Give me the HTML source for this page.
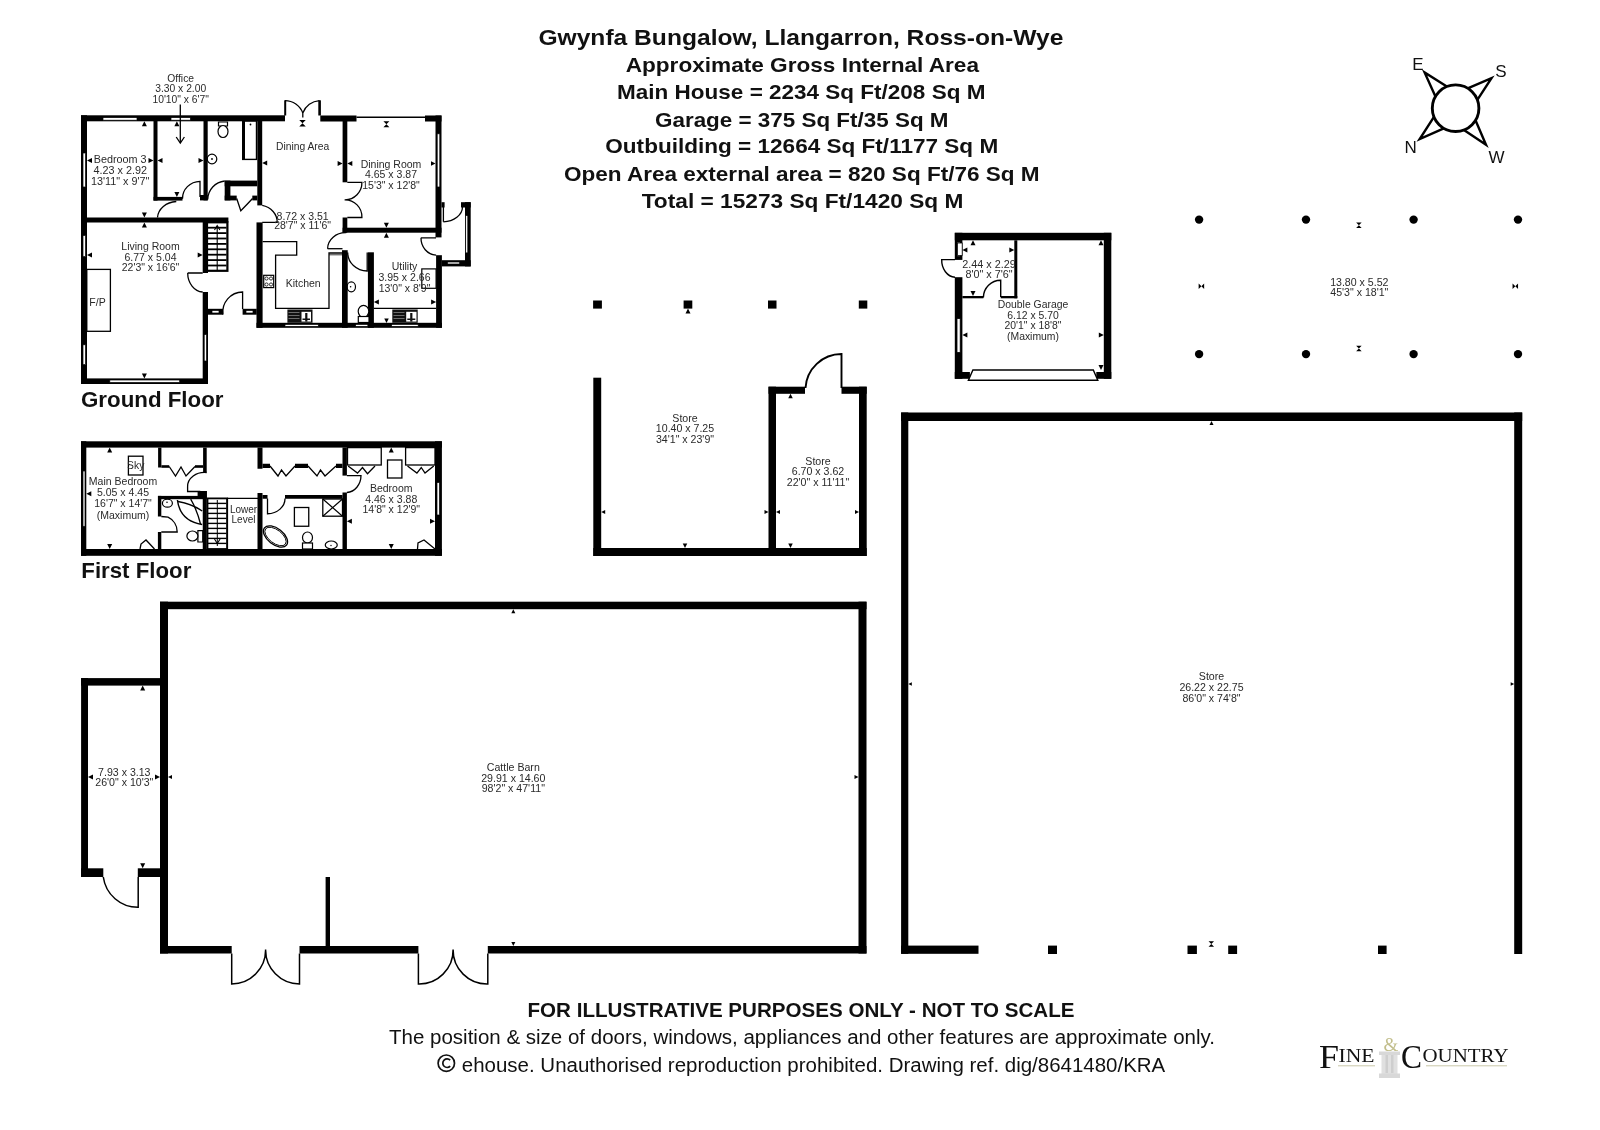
<!DOCTYPE html>
<html><head><meta charset="utf-8"><style>
html,body{margin:0;padding:0;background:#fff;width:1600px;height:1130px;overflow:hidden}
svg{display:block;will-change:transform}
</style></head><body>
<svg width="1600" height="1130" viewBox="0 0 1600 1130">
<rect width="1600" height="1130" fill="#fff"/>
<text x="538.40" y="44.75" font-family="Liberation Sans" font-size="22.8" font-weight="bold" text-anchor="start" fill="#111" textLength="525.0" lengthAdjust="spacingAndGlyphs">Gwynfa Bungalow, Llangarron, Ross-on-Wye</text>
<text x="625.70" y="71.60" font-family="Liberation Sans" font-size="21" font-weight="bold" text-anchor="start" fill="#111" textLength="353.3" lengthAdjust="spacingAndGlyphs">Approximate Gross Internal Area</text>
<text x="617.10" y="98.75" font-family="Liberation Sans" font-size="21" font-weight="bold" text-anchor="start" fill="#111" textLength="368.3" lengthAdjust="spacingAndGlyphs">Main House = 2234 Sq Ft/208 Sq M</text>
<text x="655.00" y="126.50" font-family="Liberation Sans" font-size="21" font-weight="bold" text-anchor="start" fill="#111" textLength="293.5" lengthAdjust="spacingAndGlyphs">Garage = 375 Sq Ft/35 Sq M</text>
<text x="605.30" y="153.00" font-family="Liberation Sans" font-size="21" font-weight="bold" text-anchor="start" fill="#111" textLength="392.9" lengthAdjust="spacingAndGlyphs">Outbuilding = 12664 Sq Ft/1177 Sq M</text>
<text x="563.90" y="180.50" font-family="Liberation Sans" font-size="21" font-weight="bold" text-anchor="start" fill="#111" textLength="475.7" lengthAdjust="spacingAndGlyphs">Open Area external area = 820 Sq Ft/76 Sq M</text>
<text x="641.70" y="207.65" font-family="Liberation Sans" font-size="21" font-weight="bold" text-anchor="start" fill="#111" textLength="321.7" lengthAdjust="spacingAndGlyphs">Total = 15273 Sq Ft/1420 Sq M</text>
<circle cx="1455.6" cy="108.2" r="23.3" fill="none" stroke="#000" stroke-width="2.9"/>
<path d="M1435.45,96.51 L1424.60,72.50 L1446.85,86.61" stroke="#000" stroke-width="2.4" fill="none"/>
<path d="M1467.67,88.27 L1491.50,78.20 L1477.36,99.86" stroke="#000" stroke-width="2.4" fill="none"/>
<path d="M1443.82,128.30 L1419.70,139.10 L1433.97,116.86" stroke="#000" stroke-width="2.4" fill="none"/>
<path d="M1475.51,120.31 L1486.00,144.70 L1463.91,129.97" stroke="#000" stroke-width="2.4" fill="none"/>
<text x="1418.00" y="69.70" font-family="Liberation Sans" font-size="17" text-anchor="middle" fill="#111">E</text>
<text x="1500.80" y="77.20" font-family="Liberation Sans" font-size="17" text-anchor="middle" fill="#111">S</text>
<text x="1410.60" y="152.80" font-family="Liberation Sans" font-size="17" text-anchor="middle" fill="#111">N</text>
<text x="1496.40" y="163.30" font-family="Liberation Sans" font-size="17" text-anchor="middle" fill="#111">W</text>
<text x="527.50" y="1016.80" font-family="Liberation Sans" font-size="20.5" font-weight="bold" text-anchor="start" fill="#111" textLength="547.0" lengthAdjust="spacingAndGlyphs">FOR ILLUSTRATIVE PURPOSES ONLY - NOT TO SCALE</text>
<text x="389.00" y="1043.80" font-family="Liberation Sans" font-size="19.5" text-anchor="start" fill="#111" textLength="826.0" lengthAdjust="spacingAndGlyphs">The position &amp; size of doors, windows, appliances and other features are approximate only.</text>
<circle cx="446.3" cy="1063.2" r="8.2" fill="none" stroke="#111" stroke-width="1.7"/>
<path d="M450.2,1060.2 A4.3,4.3 0 1 0 450.2,1066.2" fill="none" stroke="#111" stroke-width="1.7"/>
<text x="461.80" y="1071.80" font-family="Liberation Sans" font-size="19.5" text-anchor="start" fill="#111" textLength="703.5" lengthAdjust="spacingAndGlyphs">ehouse. Unauthorised reproduction prohibited. Drawing ref. dig/8641480/KRA</text>
<rect x="1381.5" y="1054" width="16" height="20" fill="#e0e0e0"/>
<rect x="1379" y="1051.5" width="21" height="3.5" fill="#d8d8d8"/>
<rect x="1379" y="1073.5" width="21" height="4.5" fill="#d8d8d8"/>
<rect x="1385.5" y="1055" width="2.5" height="18" fill="#cecece"/>
<rect x="1391" y="1055" width="2.5" height="18" fill="#cecece"/>
<text x="1390.80" y="1050.50" font-family="Liberation Serif" font-size="19" text-anchor="middle" fill="#c2be8c">&amp;</text>
<text x="1319.00" y="1068.20" font-family="Liberation Serif" font-size="33" text-anchor="start" fill="#111" textLength="20.0" lengthAdjust="spacingAndGlyphs">F</text>
<text x="1338.50" y="1062.40" font-family="Liberation Serif" font-size="19" text-anchor="start" fill="#111" textLength="36.0" lengthAdjust="spacingAndGlyphs">INE</text>
<text x="1401.00" y="1068.20" font-family="Liberation Serif" font-size="33" text-anchor="start" fill="#111" textLength="21.0" lengthAdjust="spacingAndGlyphs">C</text>
<text x="1422.50" y="1062.40" font-family="Liberation Serif" font-size="19" text-anchor="start" fill="#111" textLength="86.0" lengthAdjust="spacingAndGlyphs">OUNTRY</text>
<rect x="1338" y="1065.3" width="37" height="1" fill="#c9c8a8"/>
<rect x="1426" y="1065.3" width="81" height="1" fill="#c9c8a8"/>
<rect x="81.00" y="115.30" width="204.00" height="6.00" fill="#000"/>
<rect x="320.30" y="115.50" width="36.20" height="6.00" fill="#000"/>
<rect x="425.00" y="115.50" width="16.50" height="6.00" fill="#000"/>
<line x1="356.50" y1="117.20" x2="425.00" y2="117.20" stroke="#000" stroke-width="1.4"/>
<rect x="103.00" y="117.60" width="34.00" height="2.60" fill="#fff" stroke="#000" stroke-width="0.7"/>
<rect x="171.00" y="117.60" width="19.40" height="2.60" fill="#fff" stroke="#000" stroke-width="0.7"/>
<rect x="81.00" y="115.30" width="6.00" height="268.70" fill="#000"/>
<rect x="83.00" y="153.00" width="2.60" height="34.00" fill="#fff" stroke="#000" stroke-width="0.7"/>
<rect x="83.00" y="235.40" width="2.60" height="21.20" fill="#fff" stroke="#000" stroke-width="0.7"/>
<rect x="83.00" y="344.80" width="2.60" height="19.80" fill="#fff" stroke="#000" stroke-width="0.7"/>
<rect x="81.00" y="217.50" width="147.40" height="5.00" fill="#000"/>
<rect x="202.70" y="222.00" width="5.30" height="51.00" fill="#000"/>
<rect x="202.70" y="292.00" width="5.30" height="92.00" fill="#000"/>
<rect x="204.20" y="334.50" width="2.40" height="26.50" fill="#fff" stroke="#000" stroke-width="0.7"/>
<rect x="81.00" y="378.40" width="127.00" height="5.60" fill="#000"/>
<rect x="109.80" y="380.00" width="69.90" height="2.50" fill="#fff" stroke="#000" stroke-width="0.7"/>
<rect x="86.80" y="269.40" width="23.60" height="61.90" fill="none" stroke="#000" stroke-width="1.3"/>
<text x="97.50" y="306.00" font-family="Liberation Sans" font-size="10.5" text-anchor="middle" fill="#2a2a2a">F/P</text>
<rect x="153.50" y="121.00" width="4.00" height="79.60" fill="#000"/>
<rect x="153.50" y="196.90" width="29.00" height="3.70" fill="#000"/>
<rect x="203.50" y="121.00" width="4.20" height="79.40" fill="#000"/>
<rect x="200.00" y="195.00" width="7.70" height="5.40" fill="#000"/>
<path d="M200,197 L200,181.3 A18,17 0 0 0 182.5,198.8" stroke="#000" stroke-width="1.3" fill="none"/>
<path d="M157.5,217.5 A20,17 0 0 1 176.3,201.5" stroke="#000" stroke-width="1.3" fill="none"/>
<line x1="180.30" y1="104.60" x2="180.30" y2="142.50" stroke="#000" stroke-width="1.3"/>
<path d="M176.2,137 L180.3,143 L184.4,137" stroke="#000" stroke-width="1.3" fill="none"/>
<path d="M218.5,122 L227.5,122 L227.5,126 L218.5,126 Z" stroke="#000" stroke-width="1.2" fill="#fff"/>
<ellipse cx="223" cy="131.5" rx="5" ry="6" fill="#fff" stroke="#000" stroke-width="1.2"/>
<circle cx="212.0" cy="159.0" r="4.8" fill="none" stroke="#000" stroke-width="1.2"/>
<circle cx="212.0" cy="159.0" r="0.9" fill="#000"/>
<rect x="242.70" y="121.00" width="13.80" height="38.40" fill="none" stroke="#000" stroke-width="1.4"/>
<rect x="242.20" y="121.00" width="2.80" height="38.40" fill="#000"/>
<circle cx="250.5" cy="124.5" r="0.9" fill="#000"/>
<rect x="224.70" y="180.60" width="32.60" height="5.70" fill="#000"/>
<rect x="224.70" y="180.60" width="5.70" height="19.80" fill="#000"/>
<rect x="224.70" y="195.60" width="12.00" height="4.80" fill="#000"/>
<rect x="252.30" y="195.60" width="5.00" height="4.80" fill="#000"/>
<path d="M236.7,198.5 L240.8,210.8 Q246.5,205 252.5,198.5" stroke="#000" stroke-width="1.3" fill="none"/>
<path d="M207.7,199.5 A19,19 0 0 1 224.7,181" stroke="#000" stroke-width="1.3" fill="none"/>
<rect x="257.30" y="121.00" width="4.90" height="84.40" fill="#000"/>
<rect x="256.50" y="222.40" width="6.10" height="105.40" fill="#000"/>
<path d="M262.2,205.4 A19,17 0 0 1 277.2,222.4 L262.2,222.4" stroke="#000" stroke-width="1.3" fill="none"/>
<rect x="284.20" y="100.30" width="2.00" height="15.20" fill="#000"/>
<rect x="318.30" y="100.30" width="2.60" height="15.20" fill="#000"/>
<path d="M285,100.6 A19,19 0 0 1 302.8,113 A19,19 0 0 1 319.5,100.6 M302.8,112.5 L302.8,117.5" stroke="#000" stroke-width="1.3" fill="none"/>
<polygon points="299.25,120.05 305.75,120.05 302.50,123.30 305.75,126.55 299.25,126.55 302.50,123.30" fill="#000"/>
<rect x="342.60" y="121.00" width="4.70" height="61.30" fill="#000"/>
<rect x="342.60" y="217.50" width="4.70" height="15.20" fill="#000"/>
<path d="M347.3,182.3 L361.9,182.3 A17,17 0 0 1 344.6,199.8 A17,17 0 0 1 361.9,217.5 L347.3,217.5" stroke="#000" stroke-width="1.3" fill="none"/>
<rect x="435.50" y="115.50" width="6.00" height="121.90" fill="#000"/>
<rect x="437.20" y="133.80" width="2.60" height="53.20" fill="#fff" stroke="#000" stroke-width="0.7"/>
<rect x="342.60" y="227.70" width="98.90" height="5.00" fill="#000"/>
<polygon points="383.40,121.20 389.40,121.20 386.40,124.20 389.40,127.20 383.40,127.20 386.40,124.20" fill="#000"/>
<polygon points="383.90,222.70 388.90,222.70 386.40,227.70" fill="#000"/>
<polygon points="383.90,237.70 388.90,237.70 386.40,232.70" fill="#000"/>
<polygon points="337.60,161.00 337.60,166.00 342.60,163.50" fill="#000"/>
<polygon points="352.30,161.00 352.30,166.00 347.30,163.50" fill="#000"/>
<polygon points="267.20,160.50 267.20,165.50 262.20,163.00" fill="#000"/>
<polygon points="431.00,161.25 431.00,165.75 435.50,163.50" fill="#000"/>
<rect x="441.50" y="202.20" width="3.10" height="5.30" fill="#000"/>
<line x1="443.40" y1="207.00" x2="443.40" y2="221.80" stroke="#000" stroke-width="1.3"/>
<path d="M443.4,221.8 A20,15 0 0 0 462.5,207" stroke="#000" stroke-width="1.3" fill="none"/>
<rect x="461.00" y="202.20" width="9.70" height="5.30" fill="#000"/>
<rect x="465.00" y="202.20" width="5.70" height="64.20" fill="#000"/>
<rect x="465.70" y="215.50" width="2.10" height="37.40" fill="#fff" stroke="#000" stroke-width="0.7"/>
<rect x="441.90" y="260.20" width="28.80" height="6.20" fill="#000"/>
<rect x="447.40" y="262.00" width="12.30" height="2.00" fill="#fff" stroke="#000" stroke-width="0.7"/>
<rect x="436.10" y="255.20" width="5.80" height="72.60" fill="#000"/>
<path d="M421,237.8 L436,237.8 M421,237.8 A16,17 0 0 0 436.1,255.2" stroke="#000" stroke-width="1.3" fill="none"/>
<rect x="256.50" y="322.80" width="185.40" height="5.00" fill="#000"/>
<rect x="285.00" y="324.40" width="33.30" height="2.00" fill="#fff" stroke="#000" stroke-width="0.7"/>
<rect x="355.60" y="324.40" width="12.30" height="2.00" fill="#fff" stroke="#000" stroke-width="0.7"/>
<rect x="391.60" y="324.40" width="26.60" height="2.00" fill="#fff" stroke="#000" stroke-width="0.7"/>
<path d="M262.6,241.6 L296.7,241.6 L296.7,255.2 L275.6,255.2 L275.6,308.4 L329,308.4 L329,253 L342,253" stroke="#000" stroke-width="1.3" fill="none"/>
<line x1="329.00" y1="254.80" x2="342.00" y2="254.80" stroke="#000" stroke-width="0.8"/>
<rect x="263.70" y="275.30" width="10.00" height="12.30" fill="#fff" stroke="#000" stroke-width="1.2"/>
<circle cx="266.5" cy="278.5" r="1.6" fill="none" stroke="#000" stroke-width="0.8"/>
<circle cx="271" cy="278.5" r="1.6" fill="none" stroke="#000" stroke-width="0.8"/>
<circle cx="266.5" cy="284.5" r="1.6" fill="none" stroke="#000" stroke-width="0.8"/>
<circle cx="271" cy="284.5" r="1.6" fill="none" stroke="#000" stroke-width="0.8"/>
<rect x="287.40" y="309.50" width="25.10" height="13.30" fill="#111"/>
<line x1="288.50" y1="312.50" x2="299.50" y2="312.50" stroke="#777" stroke-width="0.9"/>
<line x1="288.50" y1="315.50" x2="299.50" y2="315.50" stroke="#777" stroke-width="0.9"/>
<line x1="288.50" y1="318.50" x2="299.50" y2="318.50" stroke="#777" stroke-width="0.9"/>
<rect x="301.50" y="311.80" width="9.50" height="9.80" fill="#fff"/>
<rect x="305.20" y="313.00" width="2.20" height="8.60" fill="#111"/>
<rect x="302.50" y="318.50" width="7.50" height="1.50" fill="#111"/>
<path d="M327.6,248.7 A18,16 0 0 1 346.3,232.7" stroke="#000" stroke-width="1.3" fill="none"/>
<line x1="327.60" y1="248.70" x2="342.50" y2="248.70" stroke="#000" stroke-width="1.3"/>
<rect x="342.00" y="250.20" width="5.70" height="77.60" fill="#000"/>
<path d="M347.7,252.5 A19.5,18.5 0 0 0 367.2,271 L367.2,252.5" stroke="#000" stroke-width="1.3" fill="none"/>
<rect x="367.90" y="252.30" width="6.00" height="75.50" fill="#000"/>
<ellipse cx="351.3" cy="286.8" rx="4.2" ry="5" fill="none" stroke="#000" stroke-width="1.2"/>
<circle cx="350.6" cy="286.8" r="0.8" fill="#000"/>
<ellipse cx="363.5" cy="311.3" rx="5.3" ry="6" fill="#fff" stroke="#000" stroke-width="1.2"/>
<rect x="358.30" y="316.50" width="10.70" height="6.00" fill="#fff" stroke="#000" stroke-width="1.2"/>
<line x1="373.90" y1="308.40" x2="436.10" y2="308.40" stroke="#000" stroke-width="1.3"/>
<rect x="392.30" y="309.50" width="25.40" height="13.30" fill="#111"/>
<line x1="393.50" y1="312.50" x2="404.50" y2="312.50" stroke="#777" stroke-width="0.9"/>
<line x1="393.50" y1="315.50" x2="404.50" y2="315.50" stroke="#777" stroke-width="0.9"/>
<line x1="393.50" y1="318.50" x2="404.50" y2="318.50" stroke="#777" stroke-width="0.9"/>
<rect x="406.20" y="311.80" width="10.30" height="9.80" fill="#fff"/>
<rect x="410.20" y="313.00" width="2.20" height="8.60" fill="#111"/>
<rect x="407.30" y="318.50" width="8.00" height="1.50" fill="#111"/>
<rect x="421.80" y="268.90" width="14.30" height="19.40" fill="none" stroke="#000" stroke-width="1.2"/>
<polygon points="378.90,299.50 378.90,304.50 373.90,302.00" fill="#000"/>
<polygon points="431.10,299.50 431.10,304.50 436.10,302.00" fill="#000"/>
<polygon points="384.25,318.50 388.75,318.50 386.50,323.00" fill="#000"/>
<rect x="208.00" y="308.80" width="15.00" height="5.90" fill="#000"/>
<rect x="212.00" y="310.50" width="7.00" height="2.50" fill="#fff" stroke="#000" stroke-width="0.7"/>
<rect x="242.60" y="308.80" width="14.10" height="5.90" fill="#000"/>
<rect x="246.00" y="310.50" width="7.00" height="2.50" fill="#fff" stroke="#000" stroke-width="0.7"/>
<path d="M223,314.7 A20,20 0 0 1 242.6,292 L242.6,309" stroke="#000" stroke-width="1.3" fill="none"/>
<path d="M187.7,273 L202.7,273 M187.7,273 A16,19 0 0 0 202.7,292" stroke="#000" stroke-width="1.3" fill="none"/>
<rect x="207.00" y="222.30" width="20.40" height="48.50" fill="none" stroke="#000" stroke-width="2.2"/>
<line x1="208.00" y1="227.70" x2="226.50" y2="227.70" stroke="#000" stroke-width="1.8"/>
<line x1="208.00" y1="233.10" x2="226.50" y2="233.10" stroke="#000" stroke-width="1.8"/>
<line x1="208.00" y1="238.50" x2="226.50" y2="238.50" stroke="#000" stroke-width="1.8"/>
<line x1="208.00" y1="243.90" x2="226.50" y2="243.90" stroke="#000" stroke-width="1.8"/>
<line x1="208.00" y1="249.30" x2="226.50" y2="249.30" stroke="#000" stroke-width="1.8"/>
<line x1="208.00" y1="254.70" x2="226.50" y2="254.70" stroke="#000" stroke-width="1.8"/>
<line x1="208.00" y1="260.10" x2="226.50" y2="260.10" stroke="#000" stroke-width="1.8"/>
<line x1="208.00" y1="265.50" x2="226.50" y2="265.50" stroke="#000" stroke-width="1.8"/>
<line x1="217.20" y1="226.00" x2="217.20" y2="270.00" stroke="#000" stroke-width="1.1"/>
<path d="M214.5,230 L217.2,225.5 L219.9,230" stroke="#000" stroke-width="1.1" fill="none"/>
<polygon points="141.90,126.30 146.90,126.30 144.40,121.30" fill="#000"/>
<polygon points="174.40,126.30 179.40,126.30 176.90,121.30" fill="#000"/>
<polygon points="92.00,158.10 92.00,163.10 87.00,160.60" fill="#000"/>
<polygon points="148.50,158.10 148.50,163.10 153.50,160.60" fill="#000"/>
<polygon points="162.50,158.10 162.50,163.10 157.50,160.60" fill="#000"/>
<polygon points="198.50,158.10 198.50,163.10 203.50,160.60" fill="#000"/>
<polygon points="141.90,212.50 146.90,212.50 144.40,217.50" fill="#000"/>
<polygon points="141.90,227.50 146.90,227.50 144.40,222.50" fill="#000"/>
<polygon points="174.40,191.90 179.40,191.90 176.90,196.90" fill="#000"/>
<polygon points="92.00,252.50 92.00,257.50 87.00,255.00" fill="#000"/>
<polygon points="197.70,252.50 197.70,257.50 202.70,255.00" fill="#000"/>
<polygon points="141.90,373.40 146.90,373.40 144.40,378.40" fill="#000"/>
<text x="180.70" y="81.90" font-family="Liberation Sans" font-size="10.3" text-anchor="middle" fill="#2a2a2a">Office</text>
<text x="180.70" y="92.40" font-family="Liberation Sans" font-size="10.3" text-anchor="middle" fill="#2a2a2a">3.30 x 2.00</text>
<text x="180.70" y="102.90" font-family="Liberation Sans" font-size="10.3" text-anchor="middle" fill="#2a2a2a">10'10" x 6'7"</text>
<text x="120.20" y="162.50" font-family="Liberation Sans" font-size="10.8" text-anchor="middle" fill="#2a2a2a">Bedroom 3</text>
<text x="120.20" y="173.70" font-family="Liberation Sans" font-size="10.8" text-anchor="middle" fill="#2a2a2a">4.23 x 2.92</text>
<text x="120.20" y="184.90" font-family="Liberation Sans" font-size="10.8" text-anchor="middle" fill="#2a2a2a">13'11" x 9'7"</text>
<text x="302.60" y="149.50" font-family="Liberation Sans" font-size="10.3" text-anchor="middle" fill="#2a2a2a">Dining Area</text>
<text x="302.60" y="220.30" font-family="Liberation Sans" font-size="10.5" text-anchor="middle" fill="#2a2a2a">8.72 x 3.51</text>
<text x="302.60" y="229.20" font-family="Liberation Sans" font-size="10.5" text-anchor="middle" fill="#2a2a2a">28'7" x 11'6"</text>
<text x="391.00" y="167.70" font-family="Liberation Sans" font-size="10.5" text-anchor="middle" fill="#2a2a2a">Dining Room</text>
<text x="391.00" y="178.40" font-family="Liberation Sans" font-size="10.5" text-anchor="middle" fill="#2a2a2a">4.65 x 3.87</text>
<text x="391.00" y="189.10" font-family="Liberation Sans" font-size="10.5" text-anchor="middle" fill="#2a2a2a">15'3" x 12'8"</text>
<text x="150.50" y="250.40" font-family="Liberation Sans" font-size="10.5" text-anchor="middle" fill="#2a2a2a">Living Room</text>
<text x="150.50" y="260.70" font-family="Liberation Sans" font-size="10.5" text-anchor="middle" fill="#2a2a2a">6.77 x 5.04</text>
<text x="150.50" y="271.00" font-family="Liberation Sans" font-size="10.5" text-anchor="middle" fill="#2a2a2a">22'3" x 16'6"</text>
<text x="303.20" y="286.80" font-family="Liberation Sans" font-size="10.5" text-anchor="middle" fill="#2a2a2a">Kitchen</text>
<text x="404.50" y="270.30" font-family="Liberation Sans" font-size="10.5" text-anchor="middle" fill="#2a2a2a">Utility</text>
<text x="404.50" y="281.30" font-family="Liberation Sans" font-size="10.5" text-anchor="middle" fill="#2a2a2a">3.95 x 2.66</text>
<text x="404.50" y="292.30" font-family="Liberation Sans" font-size="10.5" text-anchor="middle" fill="#2a2a2a">13'0" x 8'9"</text>
<text x="81.00" y="406.90" font-family="Liberation Sans" font-size="21.8" font-weight="bold" text-anchor="start" fill="#111" textLength="142.5" lengthAdjust="spacingAndGlyphs">Ground Floor</text>
<rect x="81.00" y="441.30" width="360.90" height="6.30" fill="#000"/>
<rect x="81.00" y="549.00" width="360.90" height="6.80" fill="#000"/>
<rect x="81.00" y="441.30" width="5.30" height="114.50" fill="#000"/>
<rect x="83.00" y="471.00" width="2.00" height="55.30" fill="#fff" stroke="#000" stroke-width="0.7"/>
<rect x="435.00" y="441.30" width="6.90" height="114.50" fill="#000"/>
<rect x="437.00" y="482.50" width="2.50" height="32.50" fill="#fff" stroke="#000" stroke-width="0.7"/>
<rect x="158.10" y="447.60" width="3.30" height="19.90" fill="#000"/>
<rect x="157.90" y="495.90" width="3.40" height="20.60" fill="#000"/>
<rect x="157.90" y="532.00" width="3.40" height="17.00" fill="#000"/>
<rect x="161.40" y="465.20" width="7.80" height="2.60" fill="#000"/>
<rect x="195.00" y="465.20" width="8.10" height="2.60" fill="#000"/>
<path d="M169.2,466.5 L175.5,476 L181,467 L186,476 L195,466.5" stroke="#000" stroke-width="1.3" fill="none"/>
<rect x="203.10" y="447.60" width="3.60" height="24.90" fill="#000"/>
<rect x="202.75" y="491.00" width="4.05" height="58.00" fill="#000"/>
<path d="M206.7,472.5 A17,14 0 0 0 187.6,486.7 L187.6,491.5 L200.3,491.5" stroke="#000" stroke-width="1.3" fill="none"/>
<rect x="158.10" y="495.90" width="48.70" height="3.30" fill="#000"/>
<rect x="197.60" y="491.00" width="9.20" height="5.00" fill="#000"/>
<path d="M161.3,516.5 L168,517.2 A16,16 0 0 1 177.2,532 L161.3,532" stroke="#000" stroke-width="1.3" fill="none"/>
<path d="M177.4,500 Q180,521 202.2,524.5" stroke="#000" stroke-width="1.4" fill="none"/>
<path d="M178,501.5 Q192,504 202.2,511" stroke="#000" stroke-width="1.4" fill="none"/>
<path d="M190.7,499.2 Q197,510 200.5,524" stroke="#000" stroke-width="1.3" fill="none"/>
<ellipse cx="167.4" cy="503.2" rx="5" ry="4" fill="none" stroke="#000" stroke-width="1.2"/>
<circle cx="167" cy="502.3" r="0.8" fill="#000"/>
<path d="M197.9,530.6 L202.75,530.6 L202.75,542 L197.9,542 Z" stroke="#000" stroke-width="1.2" fill="none"/>
<ellipse cx="192.4" cy="536" rx="5.5" ry="5" fill="#fff" stroke="#000" stroke-width="1.2"/>
<rect x="207.50" y="498.40" width="19.70" height="50.60" fill="none" stroke="#000" stroke-width="1.8"/>
<line x1="208.00" y1="503.40" x2="226.50" y2="503.40" stroke="#000" stroke-width="1.4"/>
<line x1="208.00" y1="508.40" x2="226.50" y2="508.40" stroke="#000" stroke-width="1.4"/>
<line x1="208.00" y1="513.40" x2="226.50" y2="513.40" stroke="#000" stroke-width="1.4"/>
<line x1="208.00" y1="518.40" x2="226.50" y2="518.40" stroke="#000" stroke-width="1.4"/>
<line x1="208.00" y1="523.40" x2="226.50" y2="523.40" stroke="#000" stroke-width="1.4"/>
<line x1="208.00" y1="528.40" x2="226.50" y2="528.40" stroke="#000" stroke-width="1.4"/>
<line x1="208.00" y1="533.40" x2="226.50" y2="533.40" stroke="#000" stroke-width="1.4"/>
<line x1="208.00" y1="538.40" x2="226.50" y2="538.40" stroke="#000" stroke-width="1.4"/>
<line x1="208.00" y1="543.40" x2="226.50" y2="543.40" stroke="#000" stroke-width="1.4"/>
<line x1="217.30" y1="500.00" x2="217.30" y2="546.00" stroke="#000" stroke-width="1.0"/>
<path d="M214.5,539 L217.3,543.5 L220.1,539" stroke="#000" stroke-width="1.1" fill="none"/>
<path d="M227.2,498.4 L258.4,498.4 M227.2,549 L227.2,498.4" stroke="#000" stroke-width="1.4" fill="none"/>
<text x="243.50" y="513.00" font-family="Liberation Sans" font-size="10" text-anchor="middle" fill="#2a2a2a">Lower</text>
<text x="243.50" y="522.50" font-family="Liberation Sans" font-size="10" text-anchor="middle" fill="#2a2a2a">Level</text>
<rect x="257.50" y="447.50" width="5.00" height="21.25" fill="#000"/>
<rect x="257.50" y="493.00" width="5.00" height="56.00" fill="#000"/>
<rect x="262.50" y="463.75" width="7.50" height="4.25" fill="#000"/>
<rect x="295.00" y="463.75" width="13.00" height="4.25" fill="#000"/>
<rect x="336.00" y="463.75" width="6.50" height="4.25" fill="#000"/>
<path d="M270,466 L278,476 L281.5,470 L286,476 L295,466 M308,466 L317,476 L320.5,470 L325,476 L336,466" stroke="#000" stroke-width="1.3" fill="none"/>
<rect x="342.50" y="447.50" width="4.40" height="28.10" fill="#000"/>
<rect x="342.50" y="492.50" width="4.40" height="56.50" fill="#000"/>
<path d="M346.9,475.6 L361,475.6 A15,17 0 0 1 346.9,492.5" stroke="#000" stroke-width="1.3" fill="none"/>
<rect x="285.00" y="495.00" width="57.50" height="3.75" fill="#000"/>
<rect x="262.50" y="495.00" width="5.00" height="3.75" fill="#000"/>
<path d="M285,498.5 A18,15 0 0 1 267.5,513.75 L267.5,498.5" stroke="#000" stroke-width="1.3" fill="none"/>
<rect x="322.80" y="499.00" width="19.70" height="17.20" fill="none" stroke="#000" stroke-width="1.3"/>
<line x1="322.80" y1="499.00" x2="342.50" y2="516.20" stroke="#000" stroke-width="1.2"/>
<line x1="342.50" y1="499.00" x2="322.80" y2="516.20" stroke="#000" stroke-width="1.2"/>
<rect x="294.40" y="507.50" width="14.35" height="18.75" fill="none" stroke="#000" stroke-width="1.3"/>
<ellipse cx="275.5" cy="536.5" rx="14" ry="8" transform="rotate(38 275.5 536.5)" fill="none" stroke="#000" stroke-width="1.3"/>
<ellipse cx="275.5" cy="536.5" rx="12.5" ry="6.6" transform="rotate(38 275.5 536.5)" fill="none" stroke="#000" stroke-width="0.9"/>
<ellipse cx="307.5" cy="537.5" rx="5" ry="5.5" fill="#fff" stroke="#000" stroke-width="1.2"/>
<rect x="302.50" y="543.00" width="10.00" height="6.00" fill="#fff" stroke="#000" stroke-width="1.2"/>
<ellipse cx="331.25" cy="545" rx="6" ry="4" fill="none" stroke="#000" stroke-width="1.2"/>
<circle cx="331" cy="545.5" r="0.7" fill="#000"/>
<rect x="347.50" y="447.60" width="33.75" height="17.40" fill="none" stroke="#000" stroke-width="1.3"/>
<rect x="405.60" y="447.60" width="29.40" height="17.40" fill="none" stroke="#000" stroke-width="1.3"/>
<path d="M348.1,466 L357.5,473.1 L362.5,467.5 L367.5,473.75 L375,466" stroke="#000" stroke-width="1.3" fill="none"/>
<path d="M407.5,466 L416.9,473.1 L421.25,467.5 L425,473.1 L433.75,466" stroke="#000" stroke-width="1.3" fill="none"/>
<rect x="387.50" y="460.00" width="14.40" height="18.00" fill="none" stroke="#000" stroke-width="1.3"/>
<path d="M417.5,549 L418,543 L424,540 L435,549" stroke="#000" stroke-width="1.3" fill="none"/>
<path d="M140,549 L141,544 L146,540 L154.5,549" stroke="#000" stroke-width="1.3" fill="none"/>
<rect x="128.40" y="456.20" width="14.60" height="18.80" fill="none" stroke="#000" stroke-width="1.3"/>
<text x="135.70" y="469.00" font-family="Liberation Sans" font-size="10.3" text-anchor="middle" fill="#2a2a2a">Sky</text>
<polygon points="107.20,452.60 112.20,452.60 109.70,447.60" fill="#000"/>
<polygon points="107.20,544.00 112.20,544.00 109.70,549.00" fill="#000"/>
<polygon points="91.30,491.20 91.30,496.20 86.30,493.70" fill="#000"/>
<polygon points="388.75,452.60 393.75,452.60 391.25,447.60" fill="#000"/>
<polygon points="388.75,544.00 393.75,544.00 391.25,549.00" fill="#000"/>
<polygon points="351.90,518.75 351.90,523.75 346.90,521.25" fill="#000"/>
<polygon points="430.00,518.75 430.00,523.75 435.00,521.25" fill="#000"/>
<text x="123.00" y="485.20" font-family="Liberation Sans" font-size="10.5" text-anchor="middle" fill="#2a2a2a">Main Bedroom</text>
<text x="123.00" y="496.30" font-family="Liberation Sans" font-size="10.5" text-anchor="middle" fill="#2a2a2a">5.05 x 4.45</text>
<text x="123.00" y="507.40" font-family="Liberation Sans" font-size="10.5" text-anchor="middle" fill="#2a2a2a">16'7" x 14'7"</text>
<text x="123.00" y="518.50" font-family="Liberation Sans" font-size="10.5" text-anchor="middle" fill="#2a2a2a">(Maximum)</text>
<text x="391.25" y="491.90" font-family="Liberation Sans" font-size="10.5" text-anchor="middle" fill="#2a2a2a">Bedroom</text>
<text x="391.25" y="502.50" font-family="Liberation Sans" font-size="10.5" text-anchor="middle" fill="#2a2a2a">4.46 x 3.88</text>
<text x="391.25" y="513.10" font-family="Liberation Sans" font-size="10.5" text-anchor="middle" fill="#2a2a2a">14'8" x 12'9"</text>
<text x="81.30" y="577.50" font-family="Liberation Sans" font-size="21.5" font-weight="bold" text-anchor="start" fill="#111" textLength="110.0" lengthAdjust="spacingAndGlyphs">First Floor</text>
<rect x="593.10" y="300.50" width="8.80" height="8.10" fill="#000"/>
<rect x="768.00" y="300.50" width="8.50" height="8.10" fill="#000"/>
<rect x="858.80" y="300.50" width="8.50" height="8.10" fill="#000"/>
<rect x="683.60" y="300.50" width="8.70" height="8.10" fill="#000"/>
<polygon points="685.50,313.60 690.50,313.60 688.00,308.60" fill="#000"/>
<rect x="593.30" y="377.70" width="7.90" height="178.30" fill="#000"/>
<rect x="593.30" y="548.00" width="273.40" height="8.00" fill="#000"/>
<rect x="768.50" y="386.70" width="7.50" height="169.30" fill="#000"/>
<rect x="768.50" y="386.70" width="36.50" height="7.10" fill="#000"/>
<rect x="841.50" y="386.70" width="25.20" height="7.10" fill="#000"/>
<rect x="859.00" y="386.70" width="7.70" height="169.30" fill="#000"/>
<path d="M841.5,388 L841.5,354 A36,36 0 0 0 805.5,388" stroke="#000" stroke-width="1.9" fill="none"/>
<text x="685.00" y="421.50" font-family="Liberation Sans" font-size="10.6" text-anchor="middle" fill="#2a2a2a">Store</text>
<text x="685.00" y="432.10" font-family="Liberation Sans" font-size="10.6" text-anchor="middle" fill="#2a2a2a">10.40 x 7.25</text>
<text x="685.00" y="442.70" font-family="Liberation Sans" font-size="10.6" text-anchor="middle" fill="#2a2a2a">34'1" x 23'9"</text>
<text x="818.00" y="464.50" font-family="Liberation Sans" font-size="10.6" text-anchor="middle" fill="#2a2a2a">Store</text>
<text x="818.00" y="475.10" font-family="Liberation Sans" font-size="10.6" text-anchor="middle" fill="#2a2a2a">6.70 x 3.62</text>
<text x="818.00" y="485.70" font-family="Liberation Sans" font-size="10.6" text-anchor="middle" fill="#2a2a2a">22'0" x 11'11"</text>
<polygon points="682.75,543.50 687.25,543.50 685.00,548.00" fill="#000"/>
<polygon points="605.20,510.00 605.20,514.00 601.20,512.00" fill="#000"/>
<polygon points="764.50,510.00 764.50,514.00 768.50,512.00" fill="#000"/>
<polygon points="788.25,398.30 792.75,398.30 790.50,393.80" fill="#000"/>
<polygon points="788.25,543.50 792.75,543.50 790.50,548.00" fill="#000"/>
<polygon points="780.00,510.00 780.00,514.00 776.00,512.00" fill="#000"/>
<polygon points="855.00,510.00 855.00,514.00 859.00,512.00" fill="#000"/>
<rect x="954.80" y="232.80" width="156.50" height="7.50" fill="#000"/>
<rect x="1103.80" y="232.80" width="7.50" height="146.00" fill="#000"/>
<rect x="954.80" y="232.80" width="7.60" height="27.10" fill="#000"/>
<rect x="954.80" y="277.20" width="7.60" height="101.60" fill="#000"/>
<rect x="957.20" y="242.60" width="2.80" height="13.50" fill="#fff"/>
<rect x="957.6" y="243.0" width="4.6" height="12.5" fill="#fff" stroke="#000" stroke-width="0.8"/>
<rect x="957.0" y="318.6" width="3.2" height="33.8" fill="#fff" stroke="#000" stroke-width="0.8"/>
<rect x="954.80" y="372.00" width="15.10" height="6.80" fill="#000"/>
<rect x="1096.30" y="372.00" width="15.00" height="6.80" fill="#000"/>
<path d="M972.9,370 L1093.3,370 L1097.8,380.3 L968.4,380.3 Z" stroke="#000" stroke-width="1.4" fill="#fff"/>
<rect x="1014.30" y="240.30" width="3.00" height="58.00" fill="#000"/>
<rect x="962.40" y="296.00" width="21.00" height="2.30" fill="#000"/>
<rect x="1000.70" y="296.00" width="16.60" height="2.30" fill="#000"/>
<path d="M1000.7,297 L1000.7,280.2 A17.5,17.5 0 0 0 983.4,297.5" stroke="#000" stroke-width="1.4" fill="none"/>
<path d="M955,259.6 L941.7,259.6 A14,17 0 0 0 955,277.2" stroke="#000" stroke-width="1.4" fill="none"/>
<text x="989.00" y="268.20" font-family="Liberation Sans" font-size="10.8" text-anchor="middle" fill="#2a2a2a">2.44 x 2.29</text>
<text x="989.00" y="278.00" font-family="Liberation Sans" font-size="10.8" text-anchor="middle" fill="#2a2a2a">8'0" x 7'6"</text>
<text x="1033.00" y="308.30" font-family="Liberation Sans" font-size="10.4" text-anchor="middle" fill="#2a2a2a">Double Garage</text>
<text x="1033.00" y="318.70" font-family="Liberation Sans" font-size="10.4" text-anchor="middle" fill="#2a2a2a">6.12 x 5.70</text>
<text x="1033.00" y="329.10" font-family="Liberation Sans" font-size="10.4" text-anchor="middle" fill="#2a2a2a">20'1" x 18'8"</text>
<text x="1033.00" y="339.50" font-family="Liberation Sans" font-size="10.4" text-anchor="middle" fill="#2a2a2a">(Maximum)</text>
<polygon points="970.50,245.30 975.50,245.30 973.00,240.30" fill="#000"/>
<polygon points="970.50,291.00 975.50,291.00 973.00,296.00" fill="#000"/>
<polygon points="967.40,247.50 967.40,252.50 962.40,250.00" fill="#000"/>
<polygon points="1009.30,247.50 1009.30,252.50 1014.30,250.00" fill="#000"/>
<polygon points="1098.50,245.30 1103.50,245.30 1101.00,240.30" fill="#000"/>
<polygon points="1098.50,365.00 1103.50,365.00 1101.00,370.00" fill="#000"/>
<polygon points="967.40,332.50 967.40,337.50 962.40,335.00" fill="#000"/>
<polygon points="1098.80,332.50 1098.80,337.50 1103.80,335.00" fill="#000"/>
<circle cx="1199.1" cy="219.6" r="4.2" fill="#000"/>
<circle cx="1199.1" cy="354.1" r="4.2" fill="#000"/>
<circle cx="1306.0" cy="219.6" r="4.2" fill="#000"/>
<circle cx="1306.0" cy="354.1" r="4.2" fill="#000"/>
<circle cx="1413.6" cy="219.6" r="4.2" fill="#000"/>
<circle cx="1413.6" cy="354.1" r="4.2" fill="#000"/>
<circle cx="1518.0" cy="219.6" r="4.2" fill="#000"/>
<circle cx="1518.0" cy="354.1" r="4.2" fill="#000"/>
<polygon points="1356.15,222.45 1361.65,222.45 1358.90,225.20 1361.65,227.95 1356.15,227.95 1358.90,225.20" fill="#000"/>
<polygon points="1356.15,345.75 1361.65,345.75 1358.90,348.50 1361.65,351.25 1356.15,351.25 1358.90,348.50" fill="#000"/>
<polygon points="1198.65,283.45 1201.40,286.20 1204.15,283.45 1204.15,288.95 1201.40,286.20 1198.65,288.95" fill="#000"/>
<polygon points="1512.55,283.45 1515.30,286.20 1518.05,283.45 1518.05,288.95 1515.30,286.20 1512.55,288.95" fill="#000"/>
<text x="1359.30" y="285.50" font-family="Liberation Sans" font-size="10.6" text-anchor="middle" fill="#2a2a2a">13.80 x 5.52</text>
<text x="1359.30" y="295.90" font-family="Liberation Sans" font-size="10.6" text-anchor="middle" fill="#2a2a2a">45'3" x 18'1"</text>
<rect x="901.10" y="412.50" width="621.10" height="8.50" fill="#000"/>
<rect x="901.10" y="412.50" width="7.20" height="541.30" fill="#000"/>
<rect x="1514.20" y="412.50" width="8.00" height="541.50" fill="#000"/>
<rect x="901.10" y="945.60" width="77.40" height="8.20" fill="#000"/>
<rect x="1048.00" y="945.60" width="9.00" height="8.40" fill="#000"/>
<rect x="1187.50" y="945.60" width="9.40" height="8.40" fill="#000"/>
<rect x="1228.20" y="945.60" width="8.90" height="8.40" fill="#000"/>
<rect x="1378.00" y="945.60" width="8.60" height="8.40" fill="#000"/>
<polygon points="1208.55,941.25 1214.05,941.25 1211.30,944.00 1214.05,946.75 1208.55,946.75 1211.30,944.00" fill="#000"/>
<text x="1211.50" y="679.70" font-family="Liberation Sans" font-size="10.6" text-anchor="middle" fill="#2a2a2a">Store</text>
<text x="1211.50" y="690.70" font-family="Liberation Sans" font-size="10.6" text-anchor="middle" fill="#2a2a2a">26.22 x 22.75</text>
<text x="1211.50" y="701.70" font-family="Liberation Sans" font-size="10.6" text-anchor="middle" fill="#2a2a2a">86'0" x 74'8"</text>
<polygon points="1209.50,425.00 1213.50,425.00 1211.50,421.00" fill="#000"/>
<polygon points="911.80,682.25 911.80,685.75 908.30,684.00" fill="#000"/>
<polygon points="1510.70,682.25 1510.70,685.75 1514.20,684.00" fill="#000"/>
<rect x="160.00" y="601.70" width="706.50" height="7.50" fill="#000"/>
<rect x="160.00" y="601.70" width="8.00" height="351.80" fill="#000"/>
<rect x="858.50" y="601.70" width="8.00" height="351.80" fill="#000"/>
<rect x="160.00" y="946.00" width="71.70" height="7.50" fill="#000"/>
<rect x="299.50" y="946.00" width="118.90" height="7.50" fill="#000"/>
<rect x="487.80" y="946.00" width="378.70" height="7.50" fill="#000"/>
<rect x="325.60" y="877.00" width="4.40" height="69.50" fill="#000"/>
<path d="M231.7,953.5 L231.7,984 A34,34 0 0 0 265.6,949.5 A34,34 0 0 0 299.5,984 L299.5,953.5" stroke="#000" stroke-width="1.5" fill="none"/>
<path d="M418.4,953.5 L418.4,984 A34,34 0 0 0 453.1,949.5 A34,34 0 0 0 487.8,984 L487.8,953.5" stroke="#000" stroke-width="1.5" fill="none"/>
<text x="513.30" y="771.20" font-family="Liberation Sans" font-size="10.6" text-anchor="middle" fill="#2a2a2a">Cattle Barn</text>
<text x="513.30" y="781.80" font-family="Liberation Sans" font-size="10.6" text-anchor="middle" fill="#2a2a2a">29.91 x 14.60</text>
<text x="513.30" y="792.40" font-family="Liberation Sans" font-size="10.6" text-anchor="middle" fill="#2a2a2a">98'2" x 47'11"</text>
<polygon points="511.30,613.20 515.30,613.20 513.30,609.20" fill="#000"/>
<polygon points="511.30,942.00 515.30,942.00 513.30,946.00" fill="#000"/>
<polygon points="854.50,775.00 854.50,779.00 858.50,777.00" fill="#000"/>
<polygon points="172.00,775.00 172.00,779.00 168.00,777.00" fill="#000"/>
<rect x="81.10" y="678.10" width="86.90" height="7.50" fill="#000"/>
<rect x="81.10" y="678.10" width="6.90" height="198.90" fill="#000"/>
<rect x="81.10" y="868.30" width="22.20" height="8.70" fill="#000"/>
<rect x="137.80" y="868.30" width="30.20" height="8.70" fill="#000"/>
<path d="M138.2,877 L138.2,907.3 A35,35 0 0 1 103.3,877" stroke="#000" stroke-width="1.5" fill="none"/>
<text x="124.30" y="776.00" font-family="Liberation Sans" font-size="10.6" text-anchor="middle" fill="#2a2a2a">7.93 x 3.13</text>
<text x="124.30" y="785.80" font-family="Liberation Sans" font-size="10.6" text-anchor="middle" fill="#2a2a2a">26'0" x 10'3"</text>
<polygon points="140.20,690.60 145.20,690.60 142.70,685.60" fill="#000"/>
<polygon points="140.20,863.30 145.20,863.30 142.70,868.30" fill="#000"/>
<polygon points="93.00,774.50 93.00,779.50 88.00,777.00" fill="#000"/>
<polygon points="155.00,774.50 155.00,779.50 160.00,777.00" fill="#000"/>
</svg></body></html>
